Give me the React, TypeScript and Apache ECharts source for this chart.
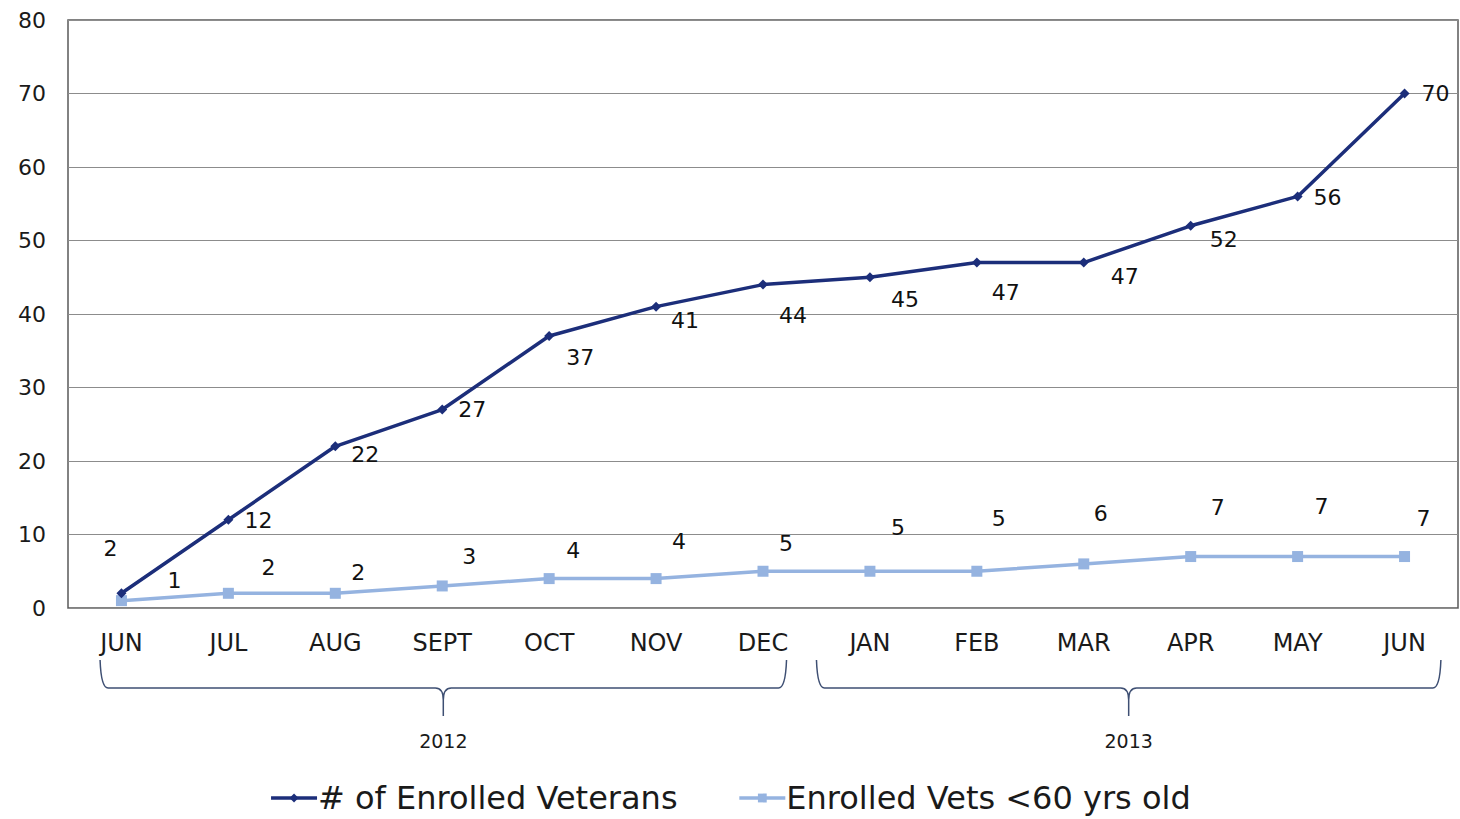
import React, { useEffect, useRef } from "react";
import * as echarts from "echarts";

const months = ["JUN", "JUL", "AUG", "SEPT", "OCT", "NOV", "DEC", "JAN", "FEB", "MAR", "APR", "MAY", "JUN"];
const enrolledVeterans = [2, 12, 22, 27, 37, 41, 44, 45, 47, 47, 52, 56, 70];
const enrolledUnder60 = [1, 2, 2, 3, 4, 4, 5, 5, 5, 6, 7, 7, 7];
const yearGroups = [
  { label: "2012", from: 0, to: 6 },
  { label: "2013", from: 7, to: 12 },
];
const seriesNames = ["# of Enrolled Veterans", "Enrolled Vets <60 yrs old"];

// layout-only nudges
const vetNudge = [[-11, -45], [30, 1], [30, 8], [30, 0], [31, 21], [29, 14], [30, 31], [35, 22], [29, 30], [41, 14], [33, 14], [30, 1], [31, 0]];
const youngNudge = [[53, -20], [40, -26], [23, -21], [27, -29], [24, -28], [23, -37], [23, -28], [28, -44], [22, -53], [17, -50], [27, -49], [24, -50], [19, -38]];
const braceExtent = [[-0.2, 0.22], [-0.5, 0.34]]; // in category units

const FONT = "DejaVu Sans";
const DARK = "#1C2E7A";
const LIGHT = "#95B3E0";

export default function App() {
  const ref = useRef<HTMLDivElement>(null);
  useEffect(() => {
    document.body.style.margin = "0";
    const chart = echarts.init(ref.current!, null, { renderer: "svg" });
    const option: any = {
      animation: false,
      backgroundColor: "#fff",
      grid: { left: 68, right: 2, top: 20, bottom: 211, show: true, borderColor: "#595959", borderWidth: 1.5 },
      xAxis: {
        type: "category",
        data: months,
        boundaryGap: true,
        axisLine: { show: false },
        axisTick: { show: false },
        axisLabel: { fontFamily: FONT, fontSize: 24, color: "#1a1a1a", margin: 23 },
      },
      yAxis: {
        type: "value",
        min: 0,
        max: 80,
        interval: 10,
        axisLine: { show: false },
        axisTick: { show: false },
        splitLine: { lineStyle: { color: "#8c8c8c", width: 1 } },
        axisLabel: { fontFamily: FONT, fontSize: 22, color: "#1a1a1a", margin: 22 },
      },
      legend: {
        bottom: 0,
        left: "center",
        itemWidth: 46,
        itemHeight: 11,
        itemGap: 60,
        lineStyle: { width: 3.5 },
        textStyle: { fontFamily: FONT, fontSize: 32, color: "#1a1a1a", padding: [0, 0, 0, -4] },
        data: seriesNames,
      },
      series: [
        {
          name: seriesNames[0],
          type: "line",
          data: enrolledVeterans.map((v, i) => ({
            value: v,
            label: { offset: vetNudge[i] },
          })),
          color: DARK,
          lineStyle: { width: 3.5, color: DARK },
          symbol: "diamond",
          symbolSize: 10,
          itemStyle: { color: DARK },
          label: { show: true, position: "inside", fontFamily: FONT, fontSize: 22, color: "#111" },
          z: 3,
        },
        {
          name: seriesNames[1],
          type: "line",
          data: enrolledUnder60.map((v, i) => ({
            value: v,
            label: { offset: youngNudge[i] },
          })),
          color: LIGHT,
          lineStyle: { width: 3.5, color: LIGHT },
          symbol: "rect",
          symbolSize: 11,
          itemStyle: { color: LIGHT },
          label: { show: true, position: "inside", fontFamily: FONT, fontSize: 22, color: "#111" },
          z: 2,
        },
      ],
    };
    chart.setOption(option);

    const y0 = 660, y1 = 688, y2 = 716;
    const graphics: any[] = [];
    yearGroups.forEach((g, idx) => {
      const xs = chart.convertToPixel({ xAxisIndex: 0 }, g.from) as number;
      const xe0 = chart.convertToPixel({ xAxisIndex: 0 }, g.to) as number;
      const step = (xe0 - xs) / Math.max(1, g.to - g.from);
      const a = xs + braceExtent[idx][0] * step;
      const b = xe0 + braceExtent[idx][1] * step;
      const cx = (a + b) / 2;
      const r = 8;
      const d =
        `M${a} ${y0} Q${a + 1} ${y1} ${a + r} ${y1} L${cx - r} ${y1} Q${cx} ${y1} ${cx} ${y1 + 12} L${cx} ${y2} ` +
        `M${cx} ${y1 + 12} Q${cx} ${y1} ${cx + r} ${y1} L${b - r} ${y1} Q${b - 1} ${y1} ${b} ${y0}`;
      const name = "yearBrace" + idx;
      echarts.graphic.registerShape(name, echarts.graphic.extendPath(d, {}) as any);
      graphics.push({ type: name, x: 0, y: 0, style: { stroke: "#3E4F73", lineWidth: 1.5, fill: "none" }, silent: true });
      graphics.push({
        type: "text",
        x: cx,
        y: 741,
        style: { text: g.label, fontFamily: FONT, fontSize: 19, fill: "#1a1a1a", textAlign: "center", textVerticalAlign: "middle" },
      });
    });
    chart.setOption({ graphic: graphics });

    return () => chart.dispose();
  }, []);
  return <div ref={ref} style={{ width: 1460, height: 819 }} />;
}
